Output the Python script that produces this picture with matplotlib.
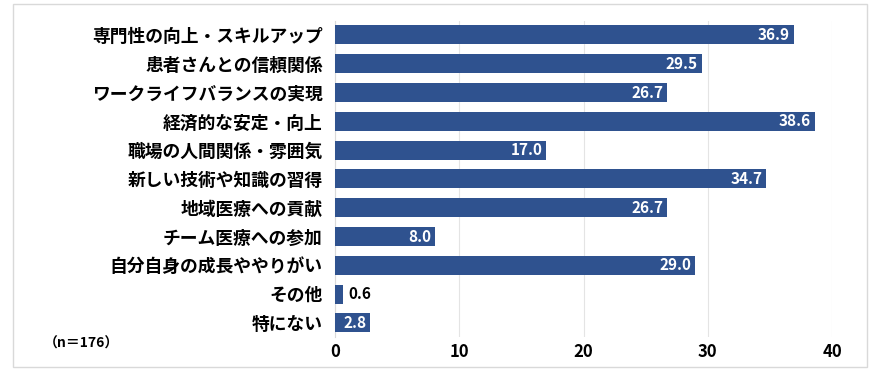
import matplotlib.pyplot as plt
from matplotlib.patches import Rectangle

plt.rcParams['font.family'] = ['Noto Sans CJK JP', 'DejaVu Sans']

# データ（上から順）
categories = [
    '専門性の向上・スキルアップ',
    '患者さんとの信頼関係',
    'ワークライフバランスの実現',
    '経済的な安定・向上',
    '職場の人間関係・雰囲気',
    '新しい技術や知識の習得',
    '地域医療への貢献',
    'チーム医療への参加',
    '自分自身の成長ややりがい',
    'その他',
    '特にない',
]
values = [36.9, 29.5, 26.7, 38.6, 17.0, 34.7, 26.7, 8.0, 29.0, 0.6, 2.8]
xticks = [0, 10, 20, 30, 40]
note = '（n＝176）'

bar_color = '#2F528F'

fig = plt.figure(figsize=(8.75, 3.73), dpi=100)
ax = fig.add_axes([0.383, 0.0955, 0.568, 0.8495])

y = list(range(len(categories)))
ax.barh(y, values, height=0.66, color=bar_color, zorder=3)
ax.set_ylim(len(categories) - 0.5, -0.5)
ax.set_xlim(0, 40)

ax.set_yticks(y)
ax.set_yticklabels(categories, fontsize=12.8, fontweight='bold')
ax.set_xticks(xticks)
ax.set_xticklabels([str(t) for t in xticks], fontsize=12, fontweight='bold')
ax.tick_params(length=0, pad=9)
ax.tick_params(axis='x', pad=4)

ax.grid(axis='x', color='#E4E4E4', linewidth=0.8, zorder=0)
for s in ['top', 'right', 'bottom']:
    ax.spines[s].set_visible(False)
ax.spines['left'].set_color('#D9D9D9')
ax.spines['left'].set_linewidth(0.8)

# 値ラベル
for i, v in enumerate(values):
    if v < 2:
        ax.text(v + 0.5, i, f'{v:.1f}', ha='left', va='center',
                fontsize=11, fontweight='bold', color='black', zorder=4)
    else:
        ax.text(v - 0.3, i, f'{v:.1f}', ha='right', va='center',
                fontsize=11, fontweight='bold', color='white', zorder=4)

fig.text(44 / 875, 1 - 344 / 373, note, fontsize=10, fontweight='bold',
         ha='left', va='center')

# 外枠
fig.patches.append(Rectangle((13 / 875, 1 - 367 / 373), 854 / 875, 363 / 373,
                             transform=fig.transFigure, fill=False,
                             edgecolor='#D9D9D9', linewidth=1))

plt.savefig('out.png', dpi=100)
